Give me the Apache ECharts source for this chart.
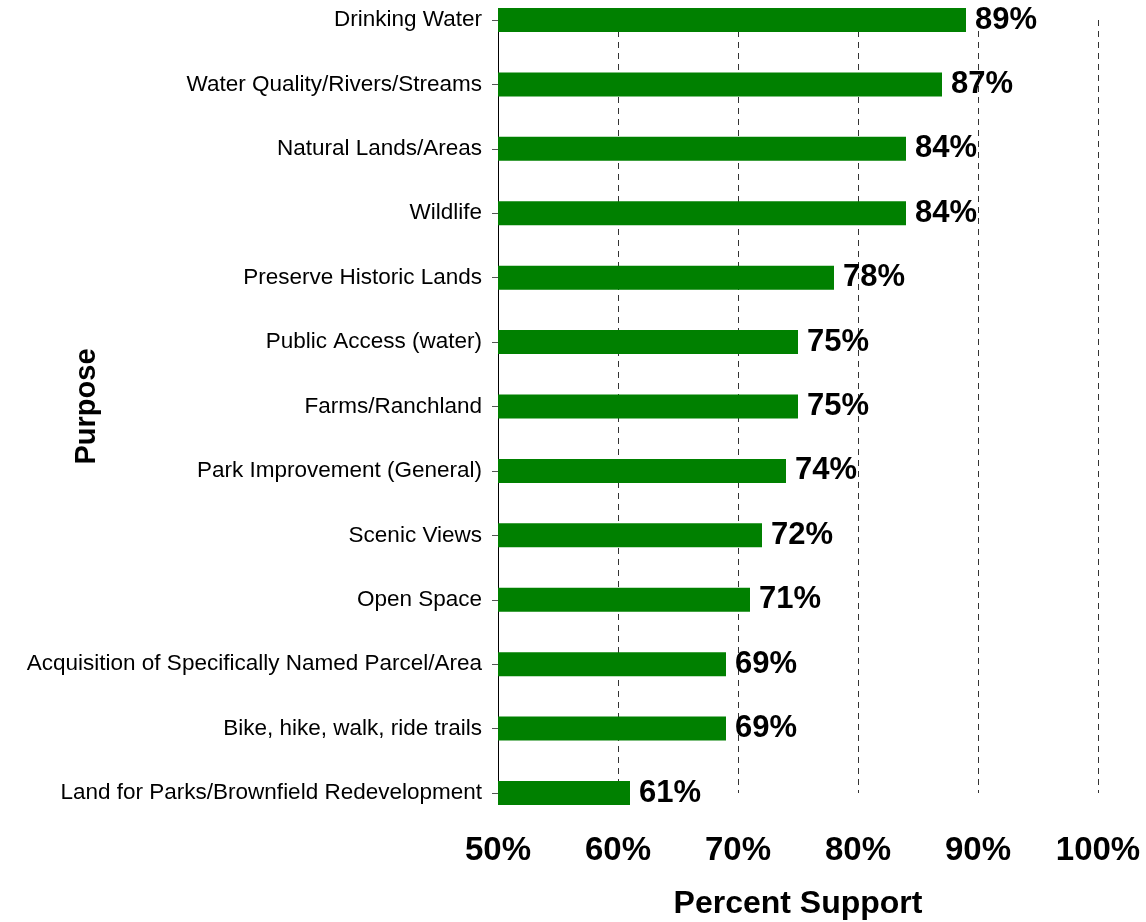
<!DOCTYPE html>
<html>
<head>
<meta charset="utf-8">
<script src="https://cdn.jsdelivr.net/npm/echarts@6/dist/echarts.min.js"></script>
<style>
html,body{margin:0;padding:0;background:#fff;}
#chart{width:1146px;height:922px;}
</style>
</head>
<body>
<div id="chart"></div>
<script>
const categories = [
  "Drinking Water",
  "Water Quality/Rivers/Streams",
  "Natural Lands/Areas",
  "Wildlife",
  "Preserve Historic Lands",
  "Public Access (water)",
  "Farms/Ranchland",
  "Park Improvement (General)",
  "Scenic Views",
  "Open Space",
  "Acquisition of Specifically Named Parcel/Area",
  "Bike, hike, walk, ride trails",
  "Land for Parks/Brownfield Redevelopment"
];
const support = [89, 87, 84, 84, 78, 75, 75, 74, 72, 71, 69, 69, 61];
const xMin = 50, xMax = 100, xStep = 10;
const xTitle = "Percent Support";
const yTitle = "Purpose";

const FONT = "'Liberation Sans', Arial, sans-serif";
const chart = echarts.init(document.getElementById('chart'), null, {renderer: 'canvas'});
chart.setOption({
  backgroundColor: '#ffffff',
  animation: false,
  grid: {left: 498, right: 48, top: 20, bottom: 129, containLabel: false, outerBoundsMode: 'none'},
  xAxis: {
    type: 'value',
    min: xMin, max: xMax, interval: xStep,
    name: xTitle,
    nameLocation: 'middle',
    nameGap: 95,
    nameMoveOverlap: false,
    nameTextStyle: {fontFamily: FONT, fontWeight: 'bold', fontSize: 32, color: '#000'},
    axisLine: {show: false},
    axisTick: {show: false},
    axisLabel: {
      formatter: '{value}%', margin: 41,
      fontFamily: FONT, fontWeight: 'bold', fontSize: 33, color: '#000'
    },
    splitLine: {show: true, lineStyle: {color: '#333', width: 1, type: [6, 5]}}
  },
  yAxis: {
    type: 'category',
    data: categories,
    inverse: true,
    boundaryGap: false,
    name: yTitle,
    nameLocation: 'middle',
    nameRotate: 90,
    nameGap: 397,
    nameMoveOverlap: false,
    nameTextStyle: {fontFamily: FONT, fontWeight: 'bold', fontSize: 29, color: '#000'},
    axisLine: {show: true, onZero: false, lineStyle: {color: '#000', width: 1}},
    axisTick: {show: true, length: 6, alignWithLabel: true, lineStyle: {color: '#555'}},
    axisLabel: {margin: 16, fontFamily: FONT, fontSize: 22.5, color: '#000', interval: 0},
    splitLine: {show: false}
  },
  series: [{
    type: 'bar',
    data: support,
    barWidth: 24,
    itemStyle: {color: '#008000'},
    label: {
      show: true, position: 'right', distance: 9,
      formatter: '{c}%',
      fontFamily: FONT, fontWeight: 'bold', fontSize: 31, color: '#000'
    }
  }]
});
</script>
</body>
</html>
